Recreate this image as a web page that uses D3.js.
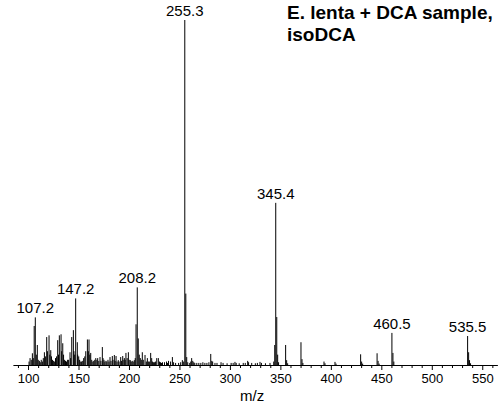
<!DOCTYPE html>
<html>
<head>
<meta charset="utf-8">
<script src="https://cdn.jsdelivr.net/npm/d3@7"></script>
<style>
  html, body { margin: 0; padding: 0; background: #fff; }
  svg { display: block; }
  text { font-family: Arial, "Liberation Sans", sans-serif; }
</style>
</head>
<body>
<svg id="chart" width="502" height="406"></svg>
<script>
// m/z values of peaks
const mz = [
  101.0,102.0,103.2,104.3,105.2,106.1,107.2,108.2,109.2,110.1,111.2,112.1,113.1,114.2,115.1,116.2,117.2,118.5,119.2,120.8,
  121.6,122.5,123.2,124.2,125.1,126.1,127.2,128.3,129.4,130.2,131.0,132.7,133.3,134.4,135.2,136.2,137.1,138.1,139.2,140.2,
  141.6,142.2,143.3,144.9,145.5,146.2,147.2,148.8,149.2,150.2,151.1,152.2,153.1,154.2,155.1,156.2,157.2,158.8,159.7,160.4,
  161.2,162.1,163.1,164.2,165.1,166.1,167.1,168.2,169.0,170.1,171.3,172.2,173.6,174.3,175.2,176.1,177.2,178.1,179.2,180.2,
  181.2,182.2,183.5,184.2,185.5,186.3,187.2,188.2,189.4,190.2,191.8,192.5,193.8,194.2,195.4,196.2,197.0,198.2,199.4,200.2,
  201.3,202.2,203.2,204.2,205.3,206.2,207.0,208.2,209.2,210.2,211.2,212.2,213.2,214.2,215.9,217.2,218.2,219.2,220.2,221.5,
  222.5,223.2,224.2,225.2,226.2,227.5,229.1,230.2,231.2,232.2,233.2,235.2,237.2,238.2,239.2,241.2,243.0,244.2,246.2,249.2,
  251.2,252.9,254.2,255.3,256.3,257.2,258.2,260.2,261.2,262.1,263.2,264.2,265.2,267.2,269.2,271.2,273.2,275.2,277.2,279.2,
  281.0,282.0,282.9,285.2,287.2,291.2,293.2,297.2,301.2,303.2,305.0,306.2,309.2,313.2,315.2,317.6,318.5,321.6,325.2,327.2,
  329.8,331.2,335.2,339.7,343.4,344.4,345.4,346.4,347.3,348.2,355.2,356.2,357.2,370.4,371.4,372.3,393.2,394.2,404.1,405.1,
  429.5,430.5,431.5,445.8,446.8,447.8,460.5,461.5,462.4,535.5,536.5,537.4,538.4
];
// relative intensities (%)
const intensity = [
  1.0,2.0,1.5,3.4,2.0,11.3,13.8,3.0,5.8,1.5,1.2,0.8,1.5,1.0,2.0,3.7,2.5,8.1,4.0,8.6,
  3.0,4.3,2.5,1.5,1.2,1.0,2.0,2.5,7.2,3.0,8.6,8.9,4.0,6.3,3.0,1.5,1.2,1.0,1.5,1.5,
  3.7,2.0,8.1,10.1,4.0,3.0,19.3,6.6,3.0,2.5,1.5,1.0,1.0,1.2,2.0,2.5,4.0,7.4,4.0,7.4,
  3.0,3.5,1.5,1.0,1.2,1.5,2.0,1.5,2.0,1.2,2.3,1.2,5.2,2.0,1.5,1.0,1.2,1.0,1.5,1.0,
  2.3,1.2,2.6,1.5,2.9,1.2,2.6,1.0,1.4,1.0,2.3,1.2,2.6,1.5,2.0,1.5,3.5,2.0,3.7,1.5,
  1.4,1.0,1.2,1.0,1.4,2.0,11.8,22.5,7.7,3.0,2.0,1.5,3.7,1.5,2.9,1.0,2.0,1.0,1.0,3.5,
  2.0,1.0,0.8,0.8,1.0,2.0,2.0,1.0,0.8,0.6,0.8,0.8,1.0,0.6,1.2,1.0,2.3,0.8,0.6,0.6,
  0.8,1.4,1.0,100,20.7,2.3,0.8,0.6,1.0,2.0,1.2,0.8,0.6,0.6,0.6,0.6,0.8,0.6,0.6,0.8,
  3.2,1.2,1.0,0.6,0.6,0.8,0.6,0.5,0.6,0.6,0.9,0.6,0.5,0.6,0.6,1.2,0.8,0.6,0.5,0.6,
  0.9,0.6,0.5,0.6,1.0,5.8,47,13.9,3.0,0.8,5.8,1.4,0.5,6.6,1.7,0.6,1.0,0.5,0.9,0.4,
  3.1,1.0,0.4,3.4,1.2,0.4,9.3,3.5,1.0,8.4,3.7,1.4,0.5
];
// annotated peaks
const peakLabels = ["107.2","147.2","208.2","255.3","345.4","460.5","535.5"];
const peakLabelMz = [107.2,147.2,208.2,255.3,345.4,460.5,535.5];
const peakLabelInt = [13.8,19.3,22.5,100,47,9.3,8.4];
// axis ticks
const majorTicks = [100,150,200,250,300,350,400,450,500,550];
const minorTicks = [90,110,120,130,140,160,170,180,190,210,220,230,240,260,270,280,290,310,320,330,340,360,370,380,390,410,420,430,440,460,470,480,490,510,520,530,540,560];
const xTitle = "m/z";
const titleLines = ["E. lenta + DCA sample,", "isoDCA"];

const svg = d3.select("#chart");
const baseY = 365;
const x = d3.scaleLinear().domain([85, 565]).range([12.9, 497.4]);
const y = d3.scaleLinear().domain([0, 100]).range([baseY, 20]);

// spectrum sticks
const peaks = mz.map((m, i) => ({m, v: intensity[i]}));
svg.append("g")
  .selectAll("line")
  .data(peaks)
  .join("line")
  .attr("x1", d => x(d.m)).attr("x2", d => x(d.m))
  .attr("y1", y(0)).attr("y2", d => y(d.v))
  .attr("stroke", "#000")
  .attr("stroke-width", 1);

// axis
const axMajor = d3.axisBottom(x).tickValues(majorTicks).tickSize(5).tickSizeOuter(0).tickPadding(4).tickFormat(d3.format("d"));
const gx = svg.append("g").attr("transform", `translate(0,${baseY})`).call(axMajor);
gx.selectAll("text").attr("font-size", 13).attr("font-family", "Arial, 'Liberation Sans', sans-serif").attr("fill", "#000");
gx.selectAll("line, path").attr("stroke", "#000");
const axMinor = d3.axisBottom(x).tickValues(minorTicks).tickSize(3).tickSizeOuter(0).tickFormat("");
const gm = svg.append("g").attr("transform", `translate(0,${baseY})`).call(axMinor);
gm.select(".domain").remove();
gm.selectAll("line").attr("stroke", "#000");

// x title
svg.append("text").attr("x", x(322)).attr("y", 401).attr("text-anchor", "middle")
  .attr("font-size", 15).text(xTitle);

// peak labels
svg.append("g").selectAll("text")
  .data(peakLabels)
  .join("text")
  .attr("x", (d, i) => x(peakLabelMz[i]))
  .attr("y", (d, i) => y(peakLabelInt[i]) - 4)
  .attr("text-anchor", "middle")
  .attr("font-size", 15)
  .text(d => d);

// title
svg.append("g").selectAll("text")
  .data(titleLines)
  .join("text")
  .attr("x", 287)
  .attr("y", (d, i) => 19 + i * 21.5)
  .attr("font-size", 19)
  .attr("font-weight", "bold")
  .text(d => d);
</script>
</body>
</html>
